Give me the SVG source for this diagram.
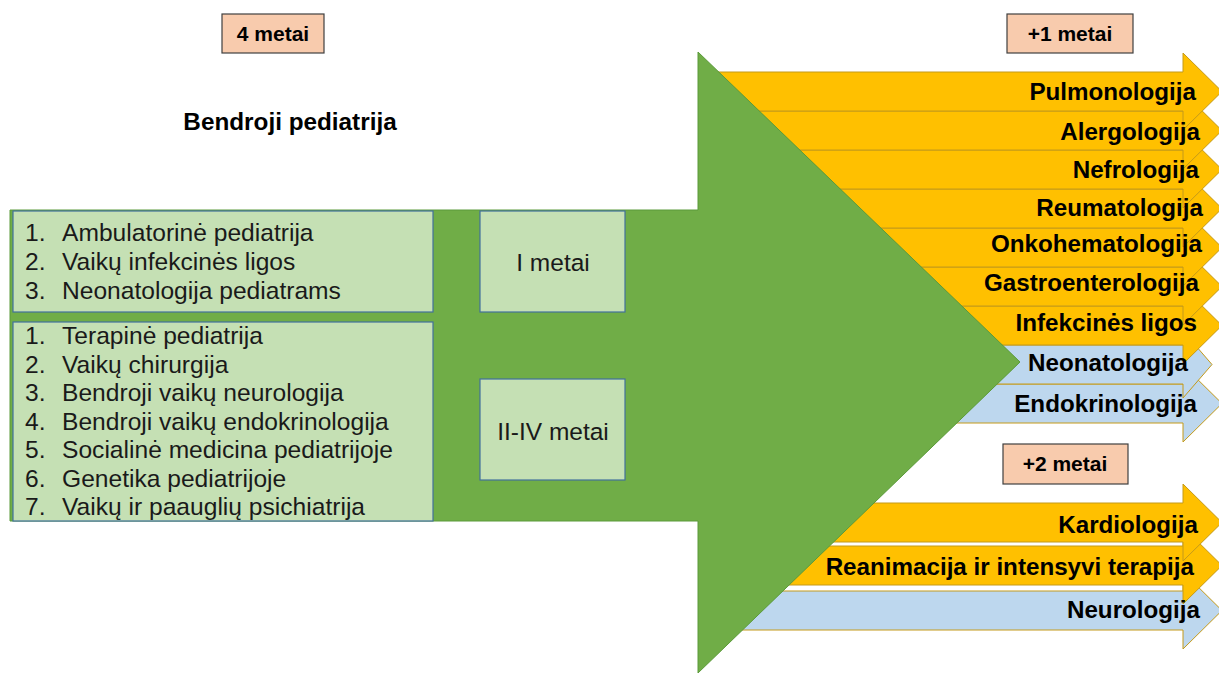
<svg xmlns="http://www.w3.org/2000/svg" width="1219" height="673" viewBox="0 0 1219 673">
<style>
.y{fill:#ffc000;stroke:#c49a1a;stroke-width:1}
.b{fill:#bdd7ee;stroke:#c49a1a;stroke-width:1}
.lbl{font-family:"Liberation Sans",Arial,sans-serif;font-weight:bold;font-size:24.2px;fill:#000;text-anchor:end}
.box{fill:#c5e0b4;stroke:#41719c;stroke-width:1.2}
.item{font-family:"Liberation Sans",Arial,sans-serif;font-size:24.6px;fill:#1a1a1a}
.yr{fill:#f8cbad;stroke:#404040;stroke-width:1.2}
.yrt{font-family:"Liberation Sans",Arial,sans-serif;font-weight:bold;font-size:21px;fill:#000;text-anchor:middle}
.mid{font-family:"Liberation Sans",Arial,sans-serif;font-size:24.5px;fill:#1a1a1a;text-anchor:middle}
</style>
<rect width="1219" height="673" fill="#fff"/>
<g id="connectors">
<path class="b" d="M700,384H1183V365L1222,403.5L1183,442V423H700Z"/>
<path class="b" d="M700,345H1183V331L1212,364.5L1183,398V384H700Z"/>
<path class="y" d="M700,306H1183V287L1222,325.5L1183,364V345H700Z"/>
<path class="y" d="M700,267H1183V248L1222,286.5L1183,325V306H700Z"/>
<path class="y" d="M700,228H1183V209L1222,247.5L1183,286V267H700Z"/>
<path class="y" d="M700,189H1183V170L1222,208.5L1183,247V228H700Z"/>
<path class="y" d="M700,150H1183V131L1222,169.5L1183,208V189H700Z"/>
<path class="y" d="M700,111H1183V92L1222,130.5L1183,169V150H700Z"/>
<path class="y" d="M700,72H1183V53L1222,91.5L1183,130V111H700Z"/>
<path class="b" d="M700,591H1183V572L1222,610.5L1183,649V630H700Z"/>
<path class="y" d="M700,546H1183V527L1222,565.5L1183,604V585H700Z"/>
<path class="y" d="M700,503H1183V484L1222,522.5L1183,561V542H700Z"/>
</g>
<g id="main-arrow">
<path d="M10,210H698V52L1020,362L698,673V521H10Z" fill="#70ad47" stroke="#5b9a3a" stroke-width="1"/>
</g>
<g id="labels-right">
<text class="lbl" x="1196" y="100">Pulmonologija</text>
<text class="lbl" x="1200" y="140">Alergologija</text>
<text class="lbl" x="1199" y="178">Nefrologija</text>
<text class="lbl" x="1203" y="216">Reumatologija</text>
<text class="lbl" x="1202" y="252">Onkohematologija</text>
<text class="lbl" x="1199" y="291">Gastroenterologija</text>
<text class="lbl" x="1197" y="331">Infekcinės ligos</text>
<text class="lbl" x="1188" y="371">Neonatologija</text>
<text class="lbl" x="1197" y="412">Endokrinologija</text>
<text class="lbl" x="1198" y="533">Kardiologija</text>
<text class="lbl" x="1194" y="575">Reanimacija ir intensyvi terapija</text>
<text class="lbl" x="1200" y="618">Neurologija</text>
</g>
<g id="year-4">
<rect class="yr" x="222" y="14" width="102" height="39"/>
<text class="yrt" x="273" y="41">4 metai</text>
</g>
<g id="year-plus1">
<rect class="yr" x="1007" y="14" width="126" height="39"/>
<text class="yrt" x="1070" y="41">+1 metai</text>
</g>
<g id="year-plus2">
<rect class="yr" x="1003" y="444" width="125" height="40"/>
<text class="yrt" x="1065" y="471">+2 metai</text>
</g>
<g id="title">
<text x="290" y="130" font-family="Liberation Sans, Arial, sans-serif" font-weight="bold" font-size="24.3" text-anchor="middle">Bendroji pediatrija</text>
</g>
<g id="box-year1">
<rect class="box" x="13" y="211" width="420" height="101"/>
<text class="item" x="25" y="241">1.</text><text class="item" x="62" y="241">Ambulatorinė pediatrija</text>
<text class="item" x="25" y="270">2.</text><text class="item" x="62" y="270">Vaikų infekcinės ligos</text>
<text class="item" x="25" y="299">3.</text><text class="item" x="62" y="299">Neonatologija pediatrams</text>
</g>
<g id="box-years2-4">
<rect class="box" x="13" y="322" width="420" height="199"/>
<text class="item" x="25" y="344">1.</text><text class="item" x="62" y="344">Terapinė pediatrija</text>
<text class="item" x="25" y="373">2.</text><text class="item" x="62" y="373">Vaikų chirurgija</text>
<text class="item" x="25" y="401">3.</text><text class="item" x="62" y="401">Bendroji vaikų neurologija</text>
<text class="item" x="25" y="430">4.</text><text class="item" x="62" y="430">Bendroji vaikų endokrinologija</text>
<text class="item" x="25" y="458">5.</text><text class="item" x="62" y="458">Socialinė medicina pediatrijoje</text>
<text class="item" x="25" y="487">6.</text><text class="item" x="62" y="487">Genetika pediatrijoje</text>
<text class="item" x="25" y="515">7.</text><text class="item" x="62" y="515">Vaikų ir paauglių psichiatrija</text>
</g>
<g id="i-metai">
<rect class="box" x="480" y="211" width="145" height="101"/>
<text class="mid" x="553" y="271">I metai</text>
</g>
<g id="ii-iv-metai">
<rect class="box" x="480" y="379" width="145" height="101"/>
<text class="mid" x="553" y="440">II-IV metai</text>
</g>
</svg>
